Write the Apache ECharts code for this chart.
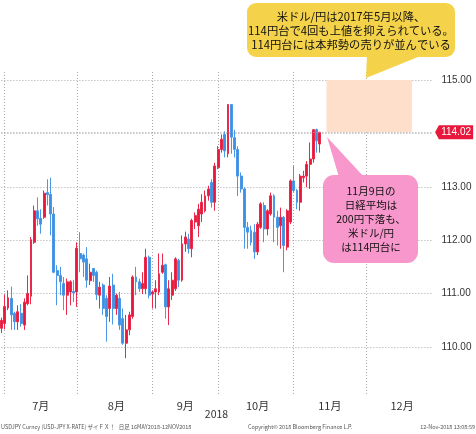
<!DOCTYPE html>
<html>
<head>
<meta charset="utf-8">
<script src="https://cdn.jsdelivr.net/npm/echarts@6/dist/echarts.min.js"></script>
<style>
  html, body { margin: 0; padding: 0; background: #fff; }
  #chart { width: 476px; height: 434px; }
</style>
</head>
<body>
<div id="chart"></div>
<script>
// USD/JPY daily candles (M/D, 2018)
const dates = [
  '6/28','6/29',
  '7/2','7/3','7/4','7/5','7/6','7/9','7/10','7/11','7/12','7/13','7/16','7/17','7/18','7/19','7/20',
  '7/23','7/24','7/25','7/26','7/27','7/30','7/31',
  '8/1','8/2','8/3','8/6','8/7','8/8','8/9','8/10','8/13','8/14','8/15','8/16','8/17','8/20','8/21',
  '8/22','8/23','8/24','8/27','8/28','8/29','8/30','8/31',
  '9/3','9/4','9/5','9/6','9/7','9/10','9/11','9/12','9/13','9/14','9/17','9/18','9/19','9/20','9/21',
  '9/24','9/25','9/26','9/27','9/28',
  '10/1','10/2','10/3','10/4','10/5','10/8','10/9','10/10','10/11','10/12','10/15','10/16','10/17',
  '10/18','10/19','10/22','10/23','10/24','10/25','10/26','10/29','10/30','10/31',
  '11/1','11/2','11/5','11/6','11/7','11/8','11/9','11/12'
];
const open = [
  110.35,110.44,
  110.73,110.91,110.63,110.47,110.63,110.41,110.81,110.95,111.96,112.55,112.41,112.43,112.89,112.86,112.49,
  111.43,111.34,111.19,110.97,111.03,111.04,111.03,
  111.75,111.72,111.65,111.24,111.47,111.40,110.97,111.16,110.91,110.72,111.16,110.72,110.91,110.53,110.07,
  110.32,110.57,111.31,111.22,111.09,111.09,111.68,110.99,
  111.03,111.03,111.40,111.54,110.75,110.97,111.09,111.62,111.25,111.93,112.02,111.84,112.34,112.27,112.49,
  112.55,112.83,113.08,112.71,113.36,
  113.70,113.98,113.62,114.54,113.92,113.70,113.20,112.96,112.24,112.18,112.15,111.78,112.24,
  112.65,112.21,112.49,112.83,112.43,112.27,112.43,111.87,112.34,113.11,
  112.93,112.71,113.17,113.20,113.42,113.52,114.07,113.80
];
const close = [
  110.50,110.76,
  110.92,110.60,110.47,110.66,110.44,110.84,111.00,112.01,112.55,112.40,112.30,112.88,112.85,112.49,111.40,
  111.34,111.22,110.97,111.22,111.22,111.01,111.85,
  111.65,111.59,111.25,111.40,111.34,110.98,111.12,110.72,110.57,111.14,110.72,110.97,110.41,110.07,110.32,
  110.60,111.31,111.22,111.09,111.19,111.68,110.97,111.03,
  111.09,111.37,111.53,110.75,111.09,111.25,111.65,111.25,111.93,112.06,111.84,112.37,112.46,112.58,112.71,
  112.83,112.96,112.71,113.39,113.70,
  113.89,113.67,114.54,113.93,113.70,113.20,112.96,112.24,112.15,111.96,111.78,112.30,112.68,
  112.21,112.55,112.83,112.43,112.24,112.43,111.90,112.55,113.11,112.93,
  112.71,113.20,113.20,113.42,113.52,114.07,113.86,114.02
];
const low = [
  110.26,110.33,
  110.69,110.32,110.32,110.32,110.38,110.32,110.78,110.80,111.93,112.27,112.12,112.40,112.65,112.09,111.38,
  110.78,110.97,110.69,110.60,110.78,110.84,110.75,
  111.40,111.31,111.11,111.16,111.22,110.88,110.72,110.60,110.10,110.47,110.42,110.60,110.32,110.04,109.79,
  110.22,110.53,110.97,111.03,110.99,110.99,110.91,110.72,
  110.72,110.97,111.37,110.53,110.41,110.88,111.05,111.12,111.22,111.78,111.75,111.68,112.21,112.06,112.34,
  112.52,112.74,112.61,112.55,113.33,
  113.64,113.55,113.55,113.62,113.55,112.83,112.89,111.84,111.84,111.90,111.65,111.72,112.21,
  111.96,112.09,112.46,111.96,111.90,111.84,111.40,111.81,112.30,112.89,
  112.58,112.55,113.08,112.99,112.96,113.45,113.64,113.64
];
const high = [
  110.55,110.98,
  111.06,111.13,110.66,110.78,110.80,110.91,111.34,112.06,112.65,112.80,112.58,112.93,113.14,113.17,112.62,
  111.53,111.50,111.31,111.28,111.25,111.25,111.96,
  112.15,111.75,111.87,111.56,111.48,111.43,111.22,111.19,110.97,111.31,111.37,111.00,111.03,110.72,110.60,
  110.66,111.34,111.50,111.28,111.40,111.84,111.71,111.06,
  111.25,111.75,111.75,111.56,111.25,111.40,111.68,111.65,112.09,112.16,112.12,112.40,112.52,112.68,112.86,
  112.93,113.02,113.14,113.45,113.76,
  113.98,114.04,114.55,114.55,114.07,113.76,113.27,112.99,112.34,112.27,112.30,112.34,112.71,
  112.71,112.58,112.89,112.86,112.55,112.61,112.45,112.58,113.14,113.39,
  112.96,113.24,113.30,113.48,113.83,114.08,114.09,114.03
];

const yTicks = [110, 111, 112, 113, 114, 115];
const lastClose = 114.02;
const resistanceLow = 114.02, resistanceHigh = 115;
const resistanceFrom = '11/14', resistanceTo = '12/20';
const axisEnd = '2018-12-28';

// Weekday axis from the first candle through late December
const axisDates = [];
const fullMonthDays = []; // weekdays in every month touched, for label centring
(function () {
  const d = new Date(2018, 5, 28);
  const end = new Date(2018, 11, 31);
  const stop = new Date(axisEnd.replace(/-/g, '/'));
  while (d <= end) {
    const wd = d.getDay();
    if (wd !== 0 && wd !== 6) {
      const key = (d.getMonth() + 1) + '/' + d.getDate();
      fullMonthDays.push({ key: key, m: d.getMonth() + 1 });
      if (d <= stop) axisDates.push(key);
    }
    d.setDate(d.getDate() + 1);
  }
})();

// Month gridlines sit on the last weekday of each month; labels centred between them
const monthEnd = new Set();
const monthEndIdx = [];
for (let i = 0; i < fullMonthDays.length; i++) {
  const next = fullMonthDays[i + 1];
  if (!next || next.m !== fullMonthDays[i].m) {
    monthEndIdx.push(i);
    if (i < axisDates.length - 1) monthEnd.add(i);
  }
}
const labelIdx = new Set();
for (let k = 1; k < monthEndIdx.length; k++) {
  const mid = Math.round((monthEndIdx[k - 1] + monthEndIdx[k]) / 2);
  if (mid < axisDates.length) labelIdx.add(mid);
}

const ohlc = axisDates.map(function (d) {
  const i = dates.indexOf(d);
  return i < 0 ? '-' : [open[i], close[i], low[i], high[i]];
});

const gridColor = '#a9a9a9';
const cjk = "'Noto Sans CJK JP', 'Noto Sans', sans-serif";

const chart = echarts.init(document.getElementById('chart'), null, { renderer: 'canvas' });
chart.setOption({
  animation: false,
  backgroundColor: '#ffffff',
  grid: { left: 1.4, right: 44.4, top: 72, bottom: 39, containLabel: false },
  xAxis: {
    type: 'category',
    data: axisDates,
    boundaryGap: false,
    axisLine: { show: false },
    axisTick: { show: false },
    axisLabel: {
      interval: function (i) { return labelIdx.has(i); },
      formatter: function (v) { return v.split('/')[0] + '月'; },
      color: '#333', fontSize: 11, fontFamily: cjk, margin: 5
    },
    splitLine: {
      show: true,
      interval: function (i) { return monthEnd.has(i); },
      lineStyle: { color: gridColor, width: 1, type: [1, 2] }
    },
    name: '2018',
    nameLocation: 'middle',
    nameGap: 14,
    nameMoveOverlap: false,
    nameTextStyle: { color: '#333', fontSize: 10.5, fontFamily: cjk }
  },
  yAxis: {
    type: 'value',
    position: 'right',
    min: 109.10,
    max: 115.15,
    axisLine: { show: false },
    axisTick: { show: false, customValues: yTicks },
    axisLabel: {
      customValues: yTicks,
      formatter: function (v) { return v.toFixed(2); },
      color: '#333', fontSize: 10, fontFamily: "'Liberation Sans', sans-serif", margin: 10
    },
    splitLine: { show: true, lineStyle: { color: gridColor, width: 1, type: [1, 2] } }
  },
  series: [{
    type: 'candlestick',
    data: ohlc,
    barWidth: 2.4,
    itemStyle: {
      color: '#e8173b', color0: '#3d8fe3',
      borderColor: '#ea2a4a', borderColor0: '#4b98e6',
      borderWidth: 1
    },
    markArea: {
      silent: true,
      itemStyle: { color: '#fddfcc' },
      data: [[
        { xAxis: resistanceFrom, yAxis: resistanceHigh },
        { xAxis: resistanceTo, yAxis: resistanceLow }
      ]]
    },
    markLine: {
      silent: true,
      symbol: ['none', 'none'],
      lineStyle: { color: gridColor, width: 1, type: [1, 2] },
      label: { show: false },
      data: [{ yAxis: lastClose }]
    },
    markPoint: {
      silent: true,
      symbol: 'path://M0,7 L4,0 L40,0 L40,14 L4,14 Z',
      symbolSize: [38, 14],
      symbolKeepAspect: false,
      symbolOffset: [22.5, 0],
      itemStyle: { color: '#e8173b' },
      label: {
        show: true, position: 'inside', offset: [2, 0],
        color: '#fff', fontSize: 10, fontFamily: "'Liberation Sans', sans-serif",
        formatter: function () { return lastClose.toFixed(2); }
      },
      data: [{ coord: [axisDates[axisDates.length - 1], lastClose] }]
    }
  }],
  graphic: [
    // callout: 114 yen resistance
    { type: 'polygon', z: 100, shape: { points: [[367, 55], [423, 55], [366, 78]] }, style: { fill: '#f4d34a' } },
    { type: 'rect', z: 100, shape: { x: 247, y: 3, width: 208, height: 54, r: 9 }, style: { fill: '#f4d34a' } },
    {
      type: 'text', z: 101, x: 351, y: 31,
      style: {
        text: '米ドル/円は2017年5月以降、\n114円台で4回も上値を抑えられている。\n114円台には本邦勢の売りが並んでいる',
        fill: '#111', fontSize: 11.3, fontFamily: cjk, lineHeight: 14,
        align: 'center', verticalAlign: 'middle'
      }
    },
    // callout: Nov 9
    { type: 'polygon', z: 100, shape: { points: [[327, 137], [339, 177], [364, 177]] }, style: { fill: '#f797cc' } },
    { type: 'rect', z: 100, shape: { x: 323, y: 175, width: 95, height: 88, r: 11 }, style: { fill: '#f797cc' } },
    {
      type: 'text', z: 101, x: 371, y: 219,
      style: {
        text: '11月9日の\n日経平均は\n200円下落も、\n米ドル/円\nは114円台に',
        fill: '#111', fontSize: 10.5, fontFamily: cjk, lineHeight: 14,
        align: 'center', verticalAlign: 'middle'
      }
    },
    // footer
    {
      type: 'text', z: 101, x: 1, y: 427,
      style: { text: 'USDJPY Curncy (USD-JPY X-RATE) ザイＦＸ！   日足 16MAY2018-12NOV2018', fill: '#555', fontSize: 5.5, fontFamily: cjk, verticalAlign: 'middle' }
    },
    {
      type: 'text', z: 101, x: 248, y: 427,
      style: { text: 'Copyright© 2018 Bloomberg Finance L.P.', fill: '#555', fontSize: 5.5, fontFamily: cjk, verticalAlign: 'middle' }
    },
    {
      type: 'text', z: 101, x: 475, y: 427,
      style: { text: '12-Nov-2018 13:08:59', fill: '#555', fontSize: 5.5, fontFamily: cjk, align: 'right', verticalAlign: 'middle' }
    }
  ]
});
</script>
</body>
</html>
